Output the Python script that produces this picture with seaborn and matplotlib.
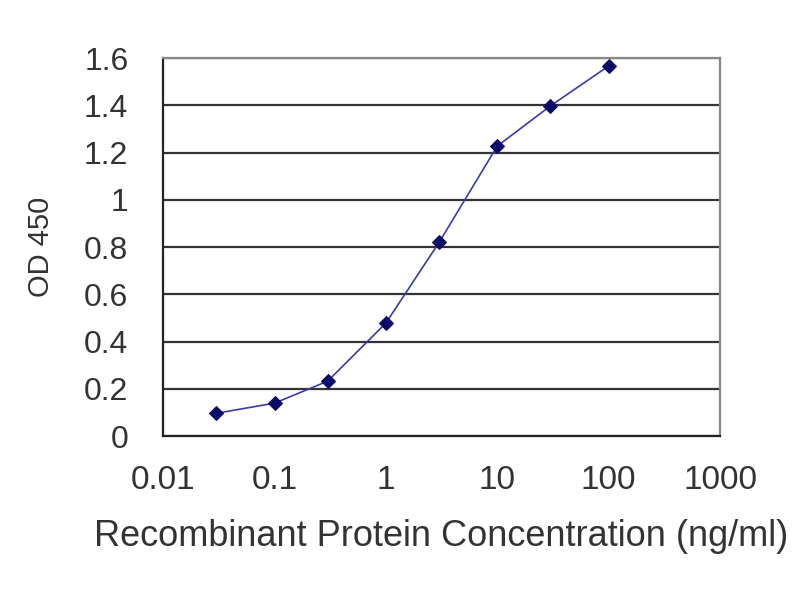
import matplotlib
matplotlib.use("Agg")
import matplotlib.pyplot as plt
import seaborn as sns
import pandas as pd

# ELISA standard curve
concentration = [0.03, 0.1, 0.3, 1, 3, 10, 30, 100]
od450 = [0.097, 0.14, 0.233, 0.479, 0.82, 1.228, 1.398, 1.567]
x_ticks = [0.01, 0.1, 1, 10, 100, 1000]
x_tick_labels = ["0.01", "0.1", "1", "10", "100", "1000"]
y_ticks = [0, 0.2, 0.4, 0.6, 0.8, 1, 1.2, 1.4, 1.6]
y_tick_labels = ["0", "0.2", "0.4", "0.6", "0.8", "1", "1.2", "1.4", "1.6"]

df = pd.DataFrame({"conc": concentration, "od": od450})

sns.set_style("white")
plt.rcParams["font.family"] = ["Liberation Sans", "DejaVu Sans"]
plt.rcParams["font.size"] = 24

fig = plt.figure(figsize=(8, 6), dpi=100)
ax = fig.add_axes([0.204, 0.273, 0.696, 0.630])

sns.lineplot(
    data=df, x="conc", y="od", ax=ax,
    color="#3a3aa8", linewidth=1.2,
    marker="D", markersize=7,
    markerfacecolor="#0a0a6a", markeredgecolor="#0a0a6a",
)

ax.set_xscale("log")
ax.set_xlim(0.01, 1000)
ax.set_ylim(0, 1.6)
ax.set_xticks(x_ticks)
ax.set_xticklabels(x_tick_labels)
ax.minorticks_off()
ax.set_yticks(y_ticks)
ax.set_yticklabels(y_tick_labels)

# dark horizontal gridlines
ax.grid(axis="y", color="#333333", linewidth=1.6)
ax.grid(axis="x", visible=False)

for side in ["left", "bottom"]:
    ax.spines[side].set_color("#222222")
    ax.spines[side].set_linewidth(1.6)
for side in ["top", "right"]:
    ax.spines[side].set_color("#888888")
    ax.spines[side].set_linewidth(1.6)

ax.tick_params(axis="x", direction="in", length=5, color="#444444", pad=21, labelsize=24)
ax.tick_params(axis="y", direction="out", length=3, color="#333333", pad=22, labelsize=23)

ax.set_xlabel("Recombinant Protein Concentration (ng/ml)", color="#333333",
              fontsize=26, labelpad=16)
ax.set_ylabel("OD 450", color="#333333", fontsize=21, labelpad=21)
for lab in ax.get_xticklabels() + ax.get_yticklabels():
    lab.set_color("#333333")

fig.savefig("out.png", dpi=100)
